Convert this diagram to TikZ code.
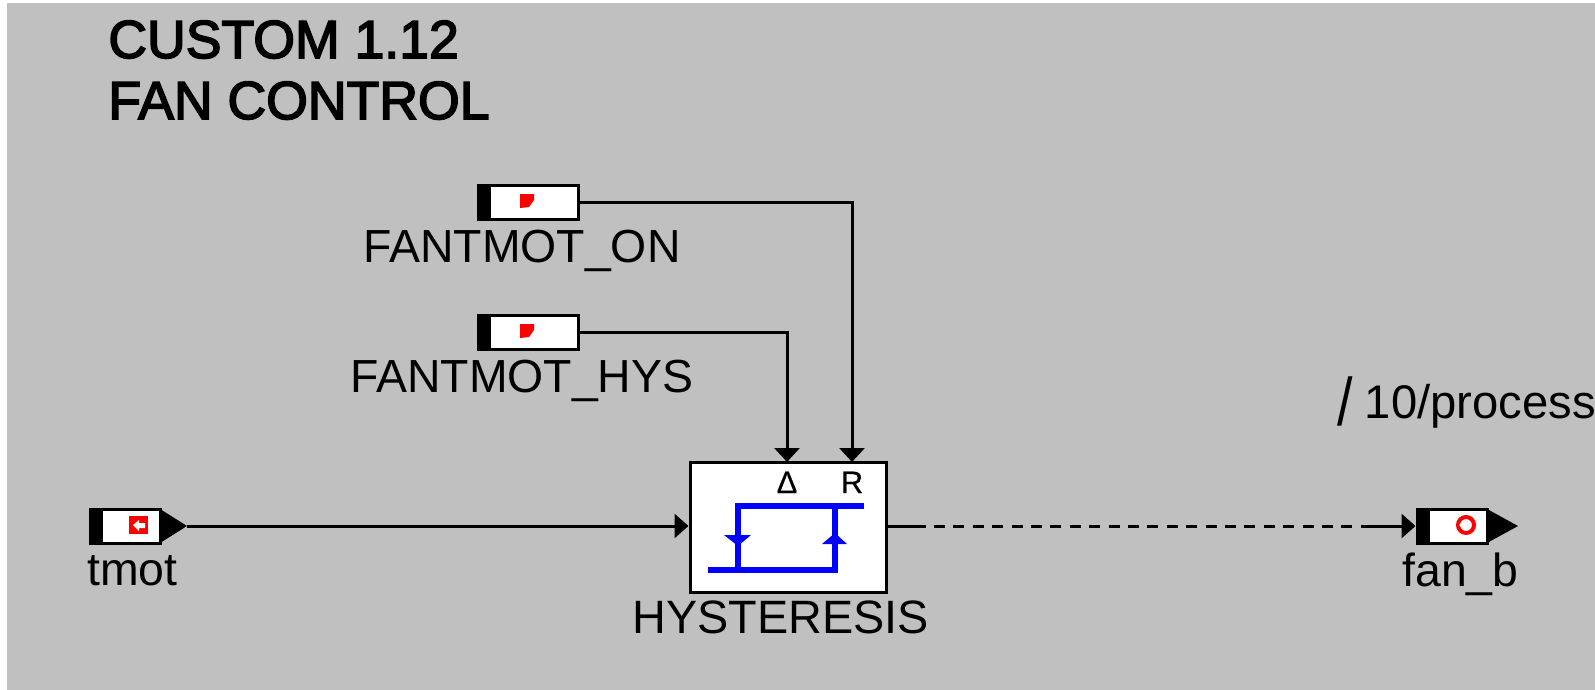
\documentclass[tikz,border=0pt]{standalone}
\usepackage{fontspec}
\setmainfont{Liberation Sans}
\newfontfamily\titlefont[FakeBold=3]{Liberation Sans}
\newfontfamily\portfont[FakeBold=0.5]{Liberation Sans}
\usetikzlibrary{arrows.meta}
\definecolor{panel}{HTML}{C0C0C0}
\definecolor{hystblue}{HTML}{0000FF}
\definecolor{markred}{HTML}{FF0000}
\tikzset{
  x=0.5pt,y=-0.5pt,
  portbox/.style={draw=black,fill=white,line width=1.5pt,rectangle,inner sep=0pt,minimum width=35pt,minimum height=17pt,anchor=center},
  wideport/.style={portbox,minimum width=50pt},
  lab/.style={inner sep=0pt,anchor=base west,font=\fontsize{23.2}{23.2}\selectfont,text=black},
  ttl/.style={inner sep=0pt,anchor=base west,font=\titlefont\fontsize{26.8}{26.8}\selectfont},
  conn/.style={line width=1.5pt,draw=black},
  tipin/.style={-{Triangle[length=7pt,width=12.5pt,fill=black]}},
  tipside/.style={-{Triangle[length=7pt,width=12pt,fill=black]}},
  blueln/.style={draw=hystblue,line width=3pt},
  smalllab/.style={inner sep=0pt,anchor=base,font=\portfont\fontsize{15.5}{15.5}\selectfont}
}
\begin{document}
\begin{tikzpicture}
\useasboundingbox (0,0) rectangle (1595,690);
\clip (0,0) rectangle (1595,690);
\fill[white] (0,0) rectangle (1595,690);
\fill[panel] (7,3) rectangle (1595,690);

\node[ttl] (t1) at (108,58) {CUSTOM 1.12};
\node[ttl] (t2) at (108,119) {FAN CONTROL};

% ports
\node[wideport] (on) at (528,202.5) {};
\fill[black] (478,185) rectangle (491,220);
\fill[markred] (520,194) -- (534,194) -- (534,200) -- (529,207) -- (520,208) -- cycle;
\node[lab] (lon) at (363,262) {FANTMOT\_ON};

\node[wideport] (hys) at (528,332.5) {};
\fill[black] (478,315) rectangle (491,350);
\fill[markred] (520,324) -- (534,324) -- (534,330) -- (529,337) -- (520,338) -- cycle;
\node[lab] (lhys) at (350,392) {FANTMOT\_HYS};

\node[portbox] (tmot) at (125,526) {};
\fill[black] (90,509) rectangle (103,543);
\fill[black] (160,509) -- (187,526) -- (160,543) -- cycle;
\fill[markred] (129,516) rectangle (148,534);
\fill[white] (133,525) -- (139,520) -- (139,523) -- (145,523) -- (145,528) -- (139,528) -- (139,531) -- cycle;
\coordinate (tmottip) at (187,526);
\node[lab] (ltmot) at (87,585) {tmot};

\node[portbox] (fan) at (1452,526) {};
\fill[black] (1417,509) rectangle (1430,543);
\fill[black] (1487,509) -- (1518,526) -- (1487,543) -- cycle;
\draw[markred,line width=2pt] (1466,525) circle (8);
\fill[white] (1459,525) -- (1465,520) -- (1465,523) -- (1470,523) -- (1470,528) -- (1465,528) -- (1465,531) -- cycle;
\node[lab] (lfan) at (1402,586) {fan\_b};

% hysteresis block
\node[draw=black,fill=white,line width=1.5pt,rectangle,inner sep=0pt,minimum width=98pt,minimum height=65pt] (hb) at (788,527) {};
\coordinate (dl) at (787,462);
\coordinate (rl) at (852,462);
\node[smalllab] (dlt) at (787,493) {\char"0394};
\node[smalllab] (rlt) at (852,493) {R};
\draw[blueln] (864,506) -- (735,506) (738,506) -- (738,570) (708,570) -- (838,570) (835,570) -- (835,506);
\fill[hystblue] (724,535) -- (751,535) -- (738,546) -- cycle;
\fill[hystblue] (822,544) -- (847,544) -- (835,533) -- cycle;
\node[lab] (lhb) at (632,633) {\fontsize{23.4}{23.4}\selectfont HYSTERESIS};

% connectors
\coordinate (dashstart) at (925,526);
\coordinate (dashend) at (1362,526);
\draw[conn,tipin] (on.east) -| (rl);
\draw[conn,tipin] (hys.east) -| (dl);
\draw[conn,tipside] (tmottip) -- (tmottip -| hb.west);
\draw[conn] (hb.east |- fan.west) -- (dashstart);
\draw[conn,dash pattern=on 5.5pt off 4.2pt,dash phase=-4.5pt] (dashstart) -- (dashend);
\draw[conn,tipside] (dashend) -- (fan.west);

\node[lab] (proc) at (1337,418) {\raisebox{-3.5pt}{\scalebox{1.2}[1.45]{/}}\hspace{6pt}\fontsize{23.6}{23.6}\selectfont 10/process};
\end{tikzpicture}
\end{document}
